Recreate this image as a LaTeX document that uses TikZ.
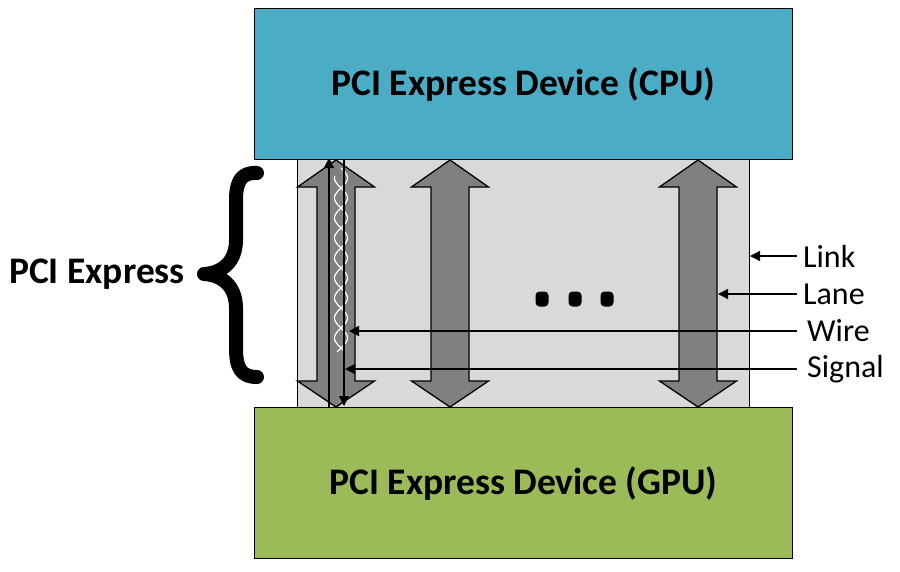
\documentclass[tikz,border=0pt]{standalone}
\usepackage{fontspec}
\setmainfont{Carlito}
\usetikzlibrary{arrows.meta}
\definecolor{cpucol}{HTML}{4BACC6}
\definecolor{gpucol}{HTML}{9BBB59}
\definecolor{linkcol}{HTML}{D9D9D9}
\definecolor{arrcol}{HTML}{808080}
\tikzset{
  devbox/.style={draw=black, line width=1.2pt, inner sep=0pt, anchor=north west},
  titletext/.style={font=\fontsize{37.5}{42}\selectfont\bfseries},
  lbltext/.style={font=\fontsize{32}{36}\selectfont, anchor=west, inner sep=0pt},
  bigarrow/.style={fill=arrcol, draw=black, line width=1.3pt, line join=miter},
  ptr/.style={draw=black, line width=1.3pt, -{Triangle[length=10pt,width=10pt]}},
  twist/.style={draw=white, line width=1.2pt}
}
\begin{document}
\begin{tikzpicture}[x=1pt,y=-1pt]
\useasboundingbox (0,0) rectangle (900,571);
% link area
\node[devbox, fill=linkcol, minimum width=452pt, minimum height=248pt] (link) at (297,159) {};
% big double arrows
\foreach \c in {336,450,698}{
  \draw[bigarrow] (\c,160) -- (\c+38.5,187) -- (\c+19,187) -- (\c+19,381) -- (\c+38.5,381)
     -- (\c,407) -- (\c-38.5,381) -- (\c-19,381) -- (\c-19,187) -- (\c-38.5,187) -- cycle;
}
% twisted pair
\draw[twist] plot[domain=168:352, samples=120, smooth] ({341+6.5*sin((\x-168)*9)}, \x);
\draw[twist] plot[domain=176:352, samples=120, smooth] ({341-6.5*sin((\x-168)*9)}, \x);
% signal lines inside first lane
\coordinate (s1b) at (329,410);
\coordinate (s1t) at (329,158);
\coordinate (s2t) at (344,158);
\coordinate (s2b) at (344,406);
\draw[ptr] (s1b) -- (s1t);
\draw[ptr] (s2t) -- (s2b);
% devices
\node[devbox, fill=cpucol, minimum width=538pt, minimum height=151pt] (cpu) at (254,8) {};
\node[devbox, fill=gpucol, minimum width=538pt, minimum height=151pt] (gpu) at (254,407) {};
\node[titletext] (cputxt) at (cpu.center) {PCI Express Device (CPU)};
\node[titletext] (gputxt) at (gpu.center) {PCI Express Device (GPU)};
% dots
\foreach \x/\n in {542/a,575/b,607/c}{
  \node[fill=black, rounded corners=4pt, minimum width=13pt, minimum height=15pt, inner sep=0pt] (dot\n) at (\x,299) {};
}
% labels
\node[lbltext] (lnk) at (803,256) {Link};
\node[lbltext] (lne) at (803,294) {Lane};
\node[lbltext] (wre) at (807,331) {Wire};
\node[lbltext] (sgl) at (807,369) {Signal};
\coordinate (lnkt) at (750,256);
\coordinate (lnet) at (718,294);
\coordinate (wret) at (349,331);
\coordinate (sglt) at (345,369);
\draw[ptr] (797,256) -- (lnkt);
\draw[ptr] (797,294) -- (lnet);
\draw[ptr] (797,331) -- (wret);
\draw[ptr] (797,369) -- (sglt);
% brace and PCI Express label
\draw[line width=14pt, line cap=round, line join=round]
  (257,173) .. controls (241,172) and (236,182) .. (236,200) -- (236,240)
  .. controls (236,262) and (222,273) .. (204,274)
  .. controls (222,275) and (236,286) .. (236,308) -- (236,348)
  .. controls (236,368) and (241,377) .. (257,377);
\node[titletext] (pcie) at (97,274) {PCI Express};
\end{tikzpicture}
\end{document}
